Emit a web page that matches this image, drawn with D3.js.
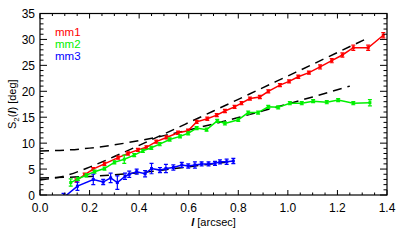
<!DOCTYPE html>
<html>
<head>
<meta charset="utf-8">
<script src="https://cdn.jsdelivr.net/npm/d3@7"></script>
<style>
  body { margin: 0; background: #fff; }
  svg text { font-family: "Liberation Sans", Arial, sans-serif; }
</style>
</head>
<body>
<div id="chart"></div>
<script>
// mm1 (red)
const mm1L = [0.147, 0.18, 0.214, 0.26, 0.315, 0.355, 0.395, 0.429, 0.469, 0.51, 0.557, 0.597, 0.632, 0.675, 0.713, 0.746, 0.785, 0.813, 0.847, 0.887, 0.921, 0.968, 1.005, 1.042, 1.085, 1.13, 1.177, 1.22, 1.264, 1.324, 1.385];
const mm1S = [2.8, 3.9, 5.0, 6.0, 7.2, 8.0, 8.7, 9.2, 10.3, 11.1, 12.0, 12.4, 14.1, 14.7, 15.4, 16.2, 17.0, 17.7, 18.6, 18.9, 20.0, 21.2, 21.9, 22.8, 23.6, 24.7, 25.9, 27.0, 28.4, 28.4, 30.8];
const mm1E = [0.3, 0.3, 0.3, 0.3, 0.3, 0.3, 0.3, 0.3, 0.3, 0.3, 0.3, 0.3, 0.3, 0.3, 0.3, 0.3, 0.3, 0.3, 0.3, 0.3, 0.3, 0.3, 0.3, 0.3, 0.3, 0.4, 0.4, 0.4, 0.5, 0.5, 0.5];

// mm2 (green)
const mm2L = [0.124, 0.153, 0.187, 0.22, 0.26, 0.3, 0.34, 0.38, 0.415, 0.449, 0.483, 0.523, 0.565, 0.598, 0.632, 0.672, 0.715, 0.746, 0.8, 0.84, 0.88, 0.921, 0.961, 1.008, 1.056, 1.102, 1.157, 1.203, 1.264, 1.331];
const mm2S = [2.4, 3.1, 3.8, 4.5, 5.1, 6.3, 6.9, 7.7, 8.5, 9.1, 9.8, 10.7, 11.3, 11.9, 12.9, 12.6, 14.3, 13.8, 14.5, 15.9, 15.9, 17.0, 16.9, 17.7, 17.7, 18.1, 17.9, 18.3, 17.7, 17.8];
const mm2E = [0.7, 0.3, 0.3, 0.3, 0.3, 0.3, 0.8, 0.3, 0.3, 0.3, 0.3, 0.3, 0.3, 0.3, 0.3, 0.3, 0.3, 0.3, 0.3, 0.3, 0.3, 0.3, 0.3, 0.3, 0.3, 0.3, 0.3, 0.3, 0.3, 0.6];

// mm3 (blue)
const mm3L = [0.095, 0.151, 0.215, 0.255, 0.285, 0.312, 0.343, 0.36, 0.39, 0.424, 0.45, 0.484, 0.508, 0.538, 0.572, 0.598, 0.625, 0.652, 0.68, 0.706, 0.726, 0.753, 0.78];
const mm3S = [-0.5, 1.7, 3.0, 2.5, 3.3, 2.4, 3.6, 4.0, 4.5, 4.1, 5.1, 4.8, 5.1, 5.3, 5.8, 5.6, 5.8, 6.0, 6.0, 6.1, 6.4, 6.4, 6.55];
const mm3E = [0.8, 0.8, 1.0, 0.5, 0.9, 1.3, 0.6, 0.6, 0.5, 0.6, 1.0, 0.5, 0.8, 0.5, 0.5, 0.4, 0.6, 0.4, 0.4, 0.4, 0.4, 0.5, 0.5];

// dashed fit curves
const fit1L = [0, 0.1, 0.2, 0.3, 0.4, 0.5, 0.6, 0.7, 0.8, 0.9, 1.0, 1.1, 1.2, 1.32];
const fit1S = [2.9, 3.68, 5.38, 7.42, 9.56, 11.75, 13.97, 16.2, 18.45, 20.7, 22.95, 25.2, 27.48, 30.2];
const fit2L = [0, 0.1, 0.2, 0.3, 0.4, 0.5, 0.6, 0.7, 0.8, 0.9, 1.0, 1.1, 1.25];
const fit2S = [8.5, 8.64, 9.04, 9.67, 10.49, 11.45, 12.54, 13.71, 14.94, 16.23, 17.56, 18.91, 21.0];
const fit3L = [0, 0.2, 0.4, 0.6, 0.78];
const fit3S = [3.3, 3.59, 4.3, 5.44, 6.5];

const xTicks = [0.0, 0.2, 0.4, 0.6, 0.8, 1.0, 1.2, 1.4];
const yTicks = [0, 5, 10, 15, 20, 25, 30, 35];
const legendNames = ["mm1", "mm2", "mm3"];

const W = 407, H = 245;
const pLeft = 40, pRight = 387, pTop = 13.5, pBottom = 195;

const svg = d3.select("#chart").append("svg")
  .attr("width", W).attr("height", H);

const x = d3.scaleLinear().domain([0, 1.4]).range([pLeft, pRight]);
const y = d3.scaleLinear().domain([0, 35]).range([pBottom, pTop]);

svg.append("clipPath").attr("id", "clip")
  .append("rect")
  .attr("x", pLeft).attr("y", pTop)
  .attr("width", pRight - pLeft).attr("height", pBottom - pTop);

const plot = svg.append("g").attr("clip-path", "url(#clip)");

const line = d3.line().x(d => x(d[0])).y(d => y(d[1]));
const smooth = d3.line().x(d => x(d[0])).y(d => y(d[1])).curve(d3.curveMonotoneX);

// fits
[[fit1L, fit1S], [fit2L, fit2S], [fit3L, fit3S]].forEach(([L, S]) => {
  plot.append("path")
    .datum(L.map((l, i) => [l, S[i]]))
    .attr("d", smooth)
    .attr("fill", "none")
    .attr("stroke", "#000")
    .attr("stroke-width", 1.5)
    .attr("stroke-dasharray", "9,6");
});

const series = [
  { L: mm1L, S: mm1S, E: mm1E, color: "#ff0000" },
  { L: mm2L, S: mm2S, E: mm2E, color: "#00f000" },
  { L: mm3L, S: mm3S, E: mm3E, color: "#0000ff" }
];

series.forEach(s => {
  const pts = s.L.map((l, i) => ({ l, v: s.S[i], e: s.E[i] }));
  const g = plot.append("g");
  g.append("path")
    .datum(pts.map(p => [p.l, p.v]))
    .attr("d", line)
    .attr("fill", "none")
    .attr("stroke", s.color)
    .attr("stroke-width", 1.5);
  const eb = g.selectAll(".eb").data(pts).enter().append("g");
  eb.append("line")
    .attr("x1", d => x(d.l)).attr("x2", d => x(d.l))
    .attr("y1", d => y(d.v - d.e)).attr("y2", d => y(d.v + d.e))
    .attr("stroke", s.color).attr("stroke-width", 1.2);
  [-1, 1].forEach(sg => {
    eb.append("line")
      .attr("x1", d => x(d.l) - 2).attr("x2", d => x(d.l) + 2)
      .attr("y1", d => y(d.v + sg * d.e)).attr("y2", d => y(d.v + sg * d.e))
      .attr("stroke", s.color).attr("stroke-width", 1.2);
  });
  eb.append("rect")
    .attr("x", d => x(d.l) - 1.5).attr("y", d => y(d.v) - 1.5)
    .attr("width", 3).attr("height", 3)
    .attr("fill", s.color);
});

// frame
svg.append("rect")
  .attr("x", pLeft).attr("y", pTop)
  .attr("width", pRight - pLeft).attr("height", pBottom - pTop)
  .attr("fill", "none").attr("stroke", "#000").attr("stroke-width", 1.2);

// ticks (inward on all four sides)
const xMinor = d3.range(0, 1.4001, 0.05);
const yMinor = d3.range(0, 35.001, 1);
const tk = svg.append("g").attr("stroke", "#000").attr("stroke-width", 1);
xMinor.forEach(v => {
  const major = xTicks.some(t => Math.abs(t - v) < 1e-6);
  const len = major ? 5 : 2.5;
  tk.append("line").attr("x1", x(v)).attr("x2", x(v)).attr("y1", pBottom).attr("y2", pBottom - len);
  tk.append("line").attr("x1", x(v)).attr("x2", x(v)).attr("y1", pTop).attr("y2", pTop + len);
});
yMinor.forEach(v => {
  const major = yTicks.includes(v);
  const len = major ? 7 : 3.5;
  tk.append("line").attr("y1", y(v)).attr("y2", y(v)).attr("x1", pLeft).attr("x2", pLeft + len);
  tk.append("line").attr("y1", y(v)).attr("y2", y(v)).attr("x1", pRight).attr("x2", pRight - len);
});

svg.selectAll(".xl").data(xTicks).enter().append("text")
  .attr("x", d => x(d)).attr("y", 212)
  .attr("text-anchor", "middle")
  .attr("font-size", 12)
  .text(d => d.toFixed(1));

svg.selectAll(".yl").data(yTicks).enter().append("text")
  .attr("x", 35).attr("y", d => y(d) + 4.5)
  .attr("text-anchor", "end")
  .attr("font-size", 12)
  .text(d => d);

// axis titles
const xt = svg.append("text")
  .attr("x", (pLeft + pRight) / 2).attr("y", 226)
  .attr("text-anchor", "middle").attr("font-size", 11);
xt.append("tspan").attr("font-style", "italic").attr("font-weight", "bold").text("l");
xt.append("tspan").text(" [arcsec]");

const yt = svg.append("text")
  .attr("transform", `translate(16,${(pTop + pBottom) / 2}) rotate(-90)`)
  .attr("text-anchor", "middle").attr("font-size", 11);
yt.append("tspan").text("S");
yt.append("tspan").attr("font-size", 8).attr("dy", 3).text("2");
yt.append("tspan").attr("dy", -3).text("(");
yt.append("tspan").attr("font-style", "italic").attr("font-weight", "bold").text("l");
yt.append("tspan").text(")  [deg]");

// legend
legendNames.forEach((n, i) => {
  svg.append("text")
    .attr("x", 55).attr("y", 35.5 + i * 12.2)
    .attr("font-size", 11.5)
    .attr("fill", series[i].color)
    .text(n);
});
</script>
</body>
</html>
